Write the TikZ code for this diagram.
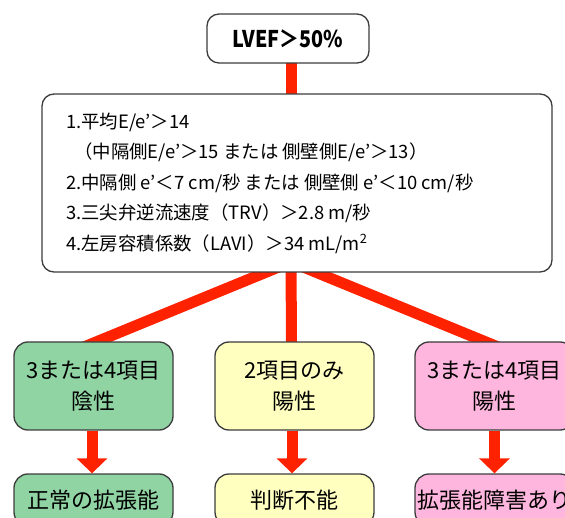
\documentclass[tikz,border=0pt]{standalone}
\usepackage{fontspec}
\setmainfont{Noto Sans CJK JP}
\usetikzlibrary{arrows.meta,calc}
\definecolor{redline}{RGB}{255,34,0}
\definecolor{gfill}{RGB}{144,212,164}
\definecolor{yfill}{RGB}{255,255,192}
\definecolor{pfill}{RGB}{255,182,222}
\definecolor{edgec}{RGB}{60,60,60}
\pgfdeclarelayer{bg}
\pgfdeclarelayer{paper}
\pgfsetlayers{paper,bg,main}
\begin{document}
\begin{tikzpicture}[x=1pt,y=-1pt,
  box/.style={draw=edgec, line width=1.3pt, rounded corners=12pt, inner sep=0pt, align=center, fill=white},
  cbox/.style={box, rounded corners=14pt, minimum width=159pt, font=\fontsize{22}{31}\selectfont},
  link/.style={draw=redline, line width=11pt},
  down/.style={draw=redline, line width=11pt, -{Triangle[width=30pt,length=15pt]}}]
\useasboundingbox (0,0) rectangle (565,518);
\clip (0,0) rectangle (565,518);
\begin{pgfonlayer}{paper}
  \fill[white] (0,0) rectangle (565,518);
\end{pgfonlayer}

\node[box, minimum width=162pt, minimum height=49pt, font=\fontsize{23}{23}\selectfont\bfseries] (top) at (288,38.5) {\scalebox{0.86}[1]{LVEF＞50\%}};
\node[box, minimum width=510pt, minimum height=178pt] (main) at (297,183) {};
\node[anchor=west, inner sep=0pt, align=left, font=\fontsize{18.4}{30.5}\selectfont] (mtext) at (66,183) {1.平均E/e’＞14\\
\hspace*{8pt}（中隔側E/e’＞15 または 側壁側E/e’＞13）\\
2.中隔側 e’＜7 cm/秒 または 側壁側 e’＜10 cm/秒\\
3.三尖弁逆流速度（TRV）＞2.8 m/秒\\
4.左房容積係数（LAVI）＞34 mL/m\textsuperscript{2}};

\node[cbox, fill=gfill, minimum height=88pt] (g1) at (93.5,386) {3または4項目\\陰性};
\node[cbox, fill=yfill, minimum height=88pt] (y1) at (294.5,386) {2項目のみ\\陽性};
\node[cbox, fill=pfill, minimum height=88pt] (p1) at (494.5,386) {3または4項目\\陽性};

\node[cbox, fill=gfill, minimum height=52pt] (g2) at (93.5,500) {正常の拡張能};
\node[cbox, fill=yfill, minimum height=52pt] (y2) at (294.5,500) {判断不能};
\node[cbox, fill=pfill, minimum height=52pt] (p2) at (494.5,500) {拡張能障害あり};

\coordinate (stemtop) at (291.5,55);
\coordinate (split) at (291,262);
\coordinate (ga) at (96,342);
\coordinate (ya) at (291.5,342);
\coordinate (pa) at (486,342);

\begin{pgfonlayer}{bg}
  \draw[link] (stemtop) -- ($(stemtop |- main.north)+(0,10)$);
  \draw[link] (split) -- ($(split)!1.1!(ga)$);
  \draw[link] (split) -- ($(split)!1.1!(ya)$);
  \draw[link] (split) -- ($(split)!1.1!(pa)$);
\end{pgfonlayer}

\draw[down] ($(g1.south)+(-1.5,0)$) -- ($(g2.north)+(-1.5,0)$);
\draw[down] ($(y1.south)+(-2.5,0)$) -- ($(y2.north)+(-2.5,0)$);
\draw[down] (p1.south) -- (p2.north);
\end{tikzpicture}
\end{document}
